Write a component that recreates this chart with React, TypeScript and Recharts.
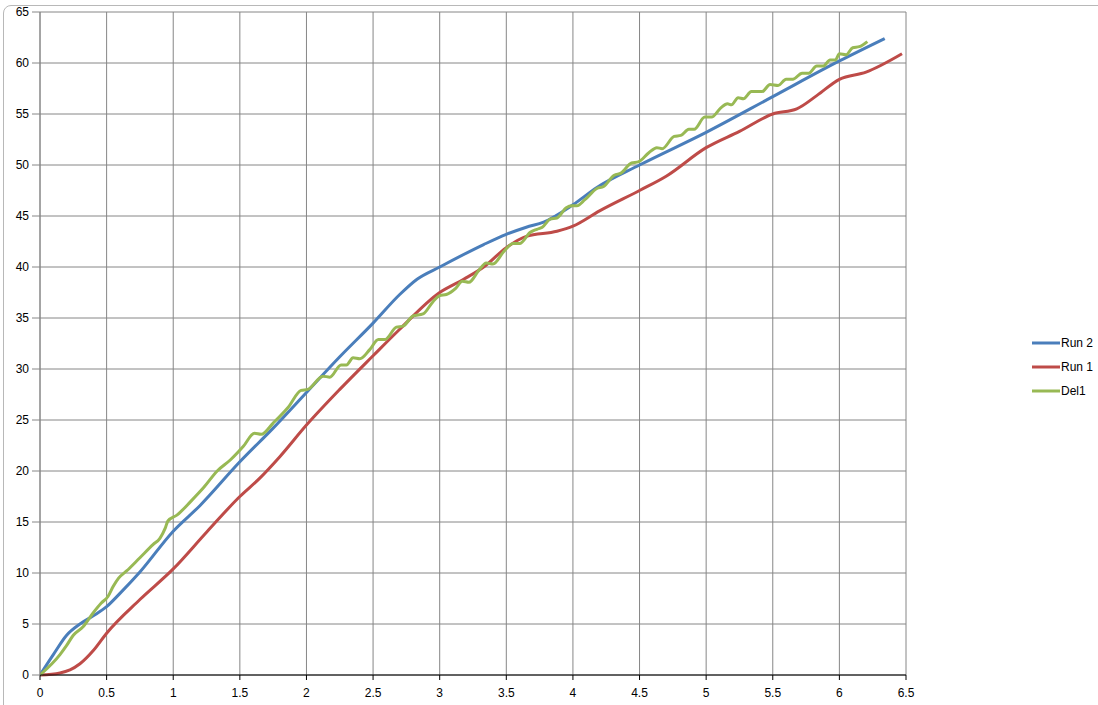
import React from 'react';
import { LineChart, Line, XAxis, YAxis, CartesianGrid, Legend } from 'recharts';

const xTicks = [0, 0.5, 1, 1.5, 2, 2.5, 3, 3.5, 4, 4.5, 5, 5.5, 6, 6.5];
const yTicks = [0, 5, 10, 15, 20, 25, 30, 35, 40, 45, 50, 55, 60, 65];

const seriesNames = ['Run 2', 'Run 1', 'Del1'];
const seriesColors = ['#4A7EBB', '#BE4B48', '#98B954'];

const run2Pts: [number, number][] = [
  [0, 0], [0.1, 2.0], [0.2, 3.9], [0.3, 5.0], [0.4, 5.8], [0.5, 6.7], [0.6, 8.0],
  [0.75, 10.1], [1.0, 14.1], [1.2, 16.6], [1.5, 20.9], [1.75, 24.2], [2.0, 27.7],
  [2.25, 31.2], [2.5, 34.5], [2.7, 37.3], [2.83, 38.8], [3.0, 40.0], [3.33, 42.2],
  [3.5, 43.2], [3.65, 43.9], [3.78, 44.4], [4.0, 46.1], [4.18, 47.8], [4.5, 50.0],
  [5.0, 53.2], [5.5, 56.7], [6.0, 60.2], [6.34, 62.4],
];

const run1Pts: [number, number][] = [
  [0, 0], [0.15, 0.2], [0.225, 0.5], [0.3, 1.1], [0.4, 2.4], [0.5, 4.1], [0.75, 7.4],
  [1.0, 10.4], [1.25, 14.0], [1.5, 17.5], [1.65, 19.3], [1.8, 21.4], [2.0, 24.5],
  [2.25, 28.0], [2.5, 31.3], [2.7, 33.9], [3.0, 37.5], [3.18, 38.8], [3.33, 40.0],
  [3.5, 41.9], [3.65, 43.0], [3.88, 43.5], [4.0, 44.0], [4.2, 45.5], [4.5, 47.5],
  [4.7, 48.9], [5.0, 51.7], [5.25, 53.3], [5.5, 55.0], [5.68, 55.5], [5.83, 56.8],
  [6.0, 58.4], [6.2, 59.1], [6.47, 60.9],
];

const del1Pts: [number, number][] = [
  [0, 0], [0.15, 2.0], [0.2, 2.9], [0.25, 3.9], [0.325, 4.75], [0.4, 6.1], [0.46, 7.05],
  [0.51, 7.7], [0.55, 8.7], [0.59, 9.5], [0.65, 10.2], [0.75, 11.5], [0.85, 12.8],
  [0.9, 13.4], [0.94, 14.4], [0.96, 15.1], [1.03, 15.7], [1.13, 17.0], [1.23, 18.4],
  [1.33, 20.0], [1.43, 21.1], [1.525, 22.4], [1.61, 23.7], [1.66, 23.6], [1.75, 24.7],
  [1.86, 26.2], [1.96, 27.9], [2.01, 28.0], [2.125, 29.3], [2.175, 29.2], [2.26, 30.4],
  [2.3, 30.4], [2.35, 31.1], [2.4, 31.0], [2.475, 31.9], [2.54, 32.9], [2.59, 32.9],
  [2.675, 34.1], [2.725, 34.2], [2.8, 35.2], [2.875, 35.4], [2.95, 36.6], [3.0, 37.2],
  [3.05, 37.3], [3.12, 37.9], [3.17, 38.6], [3.22, 38.5], [3.29, 39.6], [3.35, 40.4],
  [3.4, 40.3], [3.48, 41.5], [3.55, 42.3], [3.6, 42.3], [3.68, 43.4], [3.73, 43.7],
  [3.77, 43.9], [3.83, 44.7], [3.88, 44.8], [3.95, 45.8], [3.99, 46.0], [4.03, 46.0],
  [4.09, 46.6], [4.18, 47.7], [4.23, 47.9], [4.31, 49.0], [4.36, 49.2], [4.44, 50.2],
  [4.49, 50.3], [4.57, 51.2], [4.63, 51.7], [4.67, 51.6], [4.76, 52.8], [4.81, 52.9],
  [4.87, 53.5], [4.91, 53.5], [4.99, 54.7], [5.04, 54.7], [5.11, 55.6], [5.16, 56.0],
  [5.19, 55.9], [5.24, 56.6], [5.28, 56.5], [5.34, 57.2], [5.42, 57.2], [5.48, 57.9],
  [5.54, 57.8], [5.6, 58.4], [5.65, 58.4], [5.72, 59.0], [5.77, 59.0], [5.83, 59.7],
  [5.88, 59.7], [5.93, 60.3], [5.97, 60.3], [6.0, 60.9], [6.05, 60.8], [6.1, 61.5],
  [6.15, 61.6], [6.21, 62.1],
];

const toData = (pts: [number, number][]) => pts.map(([x, y]) => ({ x, y }));
const seriesData = [toData(run2Pts), toData(run1Pts), toData(del1Pts)];

const FONT = '"Liberation Sans", Arial, sans-serif';

const renderLegend = () => (
  <div style={{ fontFamily: FONT, fontSize: 12, color: '#000' }}>
    {seriesNames.map((name, i) => (
      <div key={name} style={{ display: 'flex', alignItems: 'center', height: 24 }}>
        <svg width={28} height={6} style={{ display: 'block' }}>
          <line x1={0} y1={3} x2={28} y2={3} stroke={seriesColors[i]} strokeWidth={3} />
        </svg>
        <span style={{ marginLeft: 1 }}>{name}</span>
      </div>
    ))}
  </div>
);

export default function App() {
  return (
    <div style={{ position: 'absolute', left: 0, top: 0, width: 1098, height: 705, background: '#fff', overflow: 'hidden' }}>
      <div style={{ position: 'absolute', left: 3, top: 5, width: 1200, height: 800, border: '1px solid #b8b8b8', borderRadius: 8 }} />
      <div style={{ position: 'absolute', left: 0, top: 0 }}>
        <LineChart width={1098} height={705} margin={{ top: 12, right: 192, bottom: 0, left: 0 }}>
          <CartesianGrid stroke="#868686" strokeWidth={1} horizontalValues={yTicks} verticalValues={xTicks} />
          <XAxis
            type="number"
            dataKey="x"
            domain={[0, 6.5]}
            ticks={xTicks}
            allowDataOverflow
            height={30}
            tickSize={5}
            tickMargin={8}
            axisLine={{ stroke: '#000', strokeWidth: 1 }}
            tickLine={{ stroke: '#000' }}
            tick={{ fill: '#000', fontSize: 12, fontFamily: FONT }}
            interval={0}
          />
          <YAxis
            type="number"
            domain={[0, 65]}
            ticks={yTicks}
            width={40}
            tickSize={8}
            tickMargin={3}
            axisLine={{ stroke: '#868686' }}
            tickLine={{ stroke: '#868686' }}
            tick={{ fill: '#000', fontSize: 12, fontFamily: FONT }}
            interval={0}
          />
          <Legend layout="horizontal" verticalAlign="middle" align="center" content={renderLegend}
            wrapperStyle={{ position: 'absolute', left: 1032, top: 331, width: 70 }} />
          {seriesNames.map((name, i) => (
            <Line
              key={name}
              name={name}
              data={seriesData[i]}
              dataKey="y"
              type="monotone"
              stroke={seriesColors[i]}
              strokeWidth={3}
              dot={false}
              activeDot={false}
              isAnimationActive={false}
            />
          ))}
        </LineChart>
      </div>
    </div>
  );
}
